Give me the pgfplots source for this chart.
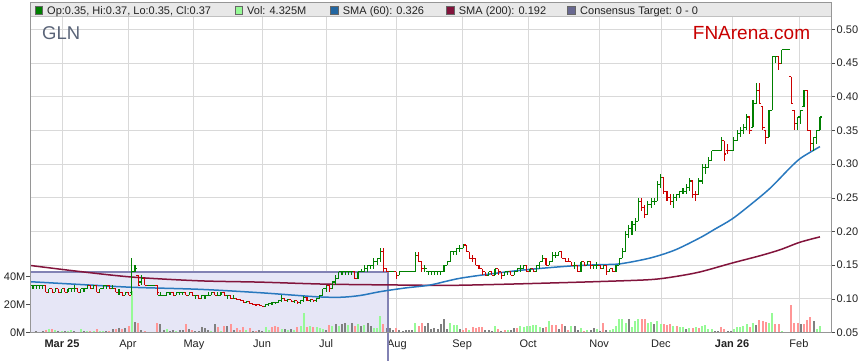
\documentclass[border=0pt]{standalone}
\usepackage{pgfplots}
\pgfplotsset{compat=1.18}
\usepackage{pgfplotstable}
\usepackage{fontspec}
\setmainfont{Liberation Sans}
\definecolor{pgreen}{RGB}{0,128,0}
\definecolor{pred}{RGB}{204,0,0}
\definecolor{vgreen}{RGB}{150,250,150}
\definecolor{vred}{RGB}{255,150,150}
\definecolor{vgray}{RGB}{128,128,128}
\definecolor{sma60}{RGB}{40,120,190}
\definecolor{sma200}{RGB}{130,20,60}
\definecolor{consfill}{RGB}{230,230,246}
\definecolor{consline}{RGB}{130,130,180}
\definecolor{gridc}{RGB}{217,217,217}
\definecolor{framec}{RGB}{150,150,150}
\definecolor{legbg}{RGB}{232,232,232}
\definecolor{glnc}{RGB}{90,100,120}
\definecolor{fnred}{RGB}{200,0,0}
\definecolor{txt}{RGB}{34,34,34}

\pgfdeclareplotmark{otick}{\pgfpathmoveto{\pgfqpoint{-2bp}{0bp}}\pgfpathlineto{\pgfqpoint{0bp}{0bp}}\pgfusepathqstroke}
\pgfdeclareplotmark{ctick}{\pgfpathmoveto{\pgfqpoint{0bp}{0bp}}\pgfpathlineto{\pgfqpoint{2bp}{0bp}}\pgfusepathqstroke}

\pgfplotstableread{
n o h l c p v q
0 .12 .12 .115 .12 1 0.6 0
1 .12 .12 .115 .12 1 0.8 0
2 .12 .12 .115 .12 1 0.5 0
3 .12 .12 .115 .12 1 1.0 0
4 .12 .12 .11 .11 0 2.0 2
5 .11 .115 .11 .115 1 2.2 1
6 .115 .115 .11 .11 0 2.4 2
7 .11 .115 .11 .115 1 1.5 1
8 .115 .115 .11 .11 0 0.8 0
9 .11 .115 .11 .115 1 1.2 1
10 .115 .115 .11 .11 0 1.0 0
11 .11 .115 .11 .115 1 0.9 1
12 .115 .115 .11 .115 1 1.8 1
13 .115 .12 .11 .115 1 1.0 0
14 .115 .115 .11 .11 0 0.7 0
15 .11 .115 .11 .115 1 2.4 1
16 .115 .115 .11 .115 1 1.0 0
17 .115 .12 .115 .12 1 0.8 1
18 .12 .12 .115 .115 0 1.4 2
19 .115 .12 .115 .12 1 1.0 1
20 .12 .12 .11 .11 0 2.8 2
21 .11 .115 .11 .115 1 1.0 1
22 .115 .12 .115 .12 1 1.3 1
23 .12 .12 .115 .12 1 1.0 0
24 .12 .12 .115 .115 0 1.2 2
25 .115 .12 .115 .115 1 2.6 0
26 .115 .115 .11 .11 0 2.2 2
27 .11 .115 .105 .11 1 3.4 0
28 .11 .11 .105 .105 0 2.4 2
29 .105 .11 .105 .11 1 3.0 0
30 .11 .11 .105 .105 0 4.3 2
31 .11 .16 .105 .14 1 30 1
32 .14 .15 .14 .145 1 7.6 0
33 .135 .135 .12 .12 0 7.0 2
34 .125 .135 .12 .13 1 2.0 0
35 .13 .13 .12 .12 0 1.2 2
36 .12 .12 .12 .12 1 0.6 0
37 .12 .12 .12 .12 1 0.5 0
38 .12 .12 .12 .12 1 0.7 0
39 .12 .12 .105 .11 0 7.0 2
40 .105 .11 .105 .105 1 6.0 0
41 .105 .105 .105 .105 1 1.5 0
42 .105 .11 .105 .11 1 2.2 1
43 .11 .11 .105 .11 1 1.0 0
44 .11 .11 .105 .105 0 1.8 0
45 .105 .11 .105 .11 1 1.0 1
46 .11 .11 .105 .11 1 2.0 0
47 .11 .11 .105 .11 1 1.5 0
48 .11 .11 .105 .105 0 6.0 2
49 .105 .11 .105 .11 1 2.4 0
50 .11 .11 .105 .105 0 2.0 2
51 .105 .105 .10 .105 1 1.0 0
52 .105 .105 .10 .10 0 1.2 0
53 .10 .105 .10 .105 1 3.6 0
54 .105 .105 .10 .105 1 3.0 0
55 .105 .11 .105 .105 1 1.5 0
56 .105 .11 .105 .11 1 1.0 1
57 .11 .11 .105 .105 0 6.0 0
58 .105 .11 .105 .105 1 3.6 2
59 .105 .11 .105 .11 1 1.2 1
60 .11 .11 .105 .105 0 4.8 2
61 .105 .105 .10 .105 1 4.8 0
62 .105 .105 .10 .10 0 6.0 2
63 .10 .105 .10 .10 1 2.0 0
64 .10 .10 .098 .099 0 3.0 2
65 .099 .10 .097 .098 0 1.5 2
66 .098 .099 .095 .095 0 4.0 2
67 .095 .097 .094 .096 1 2.0 1
68 .096 .096 .093 .093 0 3.0 2
69 .093 .094 .091 .092 0 1.0 0
70 .092 .093 .09 .091 0 1.2 2
71 .091 .092 .089 .09 0 1.5 0
72 .09 .09 .088 .089 0 1.0 0
73 .089 .092 .089 .091 1 3.6 1
74 .091 .094 .09 .093 1 2.0 1
75 .093 .095 .092 .094 1 3.6 2
76 .094 .096 .093 .095 1 4.8 2
77 .095 .098 .094 .097 1 3.6 2
78 .097 .106 .096 .10 1 2.4 1
79 .10 .10 .097 .098 0 2.4 0
80 .098 .10 .096 .099 1 2.0 1
81 .099 .099 .095 .096 0 2.4 0
82 .096 .098 .095 .097 1 2.0 1
83 .097 .097 .093 .094 0 3.6 2
84 .094 .098 .093 .097 1 4.8 1
85 .097 .104 .096 .102 1 13.8 1
86 .102 .102 .097 .098 0 4.0 2
87 .098 .10 .096 .099 1 5.0 1
88 .099 .099 .096 .097 0 4.0 2
89 .097 .101 .096 .10 1 3.6 1
90 .10 .106 .10 .105 1 3.0 1
91 .105 .115 .105 .115 1 2.4 1
92 .115 .12 .11 .12 1 2.0 0
93 .12 .12 .11 .115 0 5.5 2
94 .115 .125 .115 .125 1 4.8 1
95 .125 .135 .12 .13 1 6.0 0
96 .13 .14 .13 .14 1 5.0 1
97 .14 .14 .135 .14 1 6.0 0
98 .14 .14 .135 .14 1 7.0 0
99 .14 .14 .135 .14 1 5.5 1
100 .14 .14 .135 .14 1 6.5 0
101 .14 .14 .13 .13 0 5.0 2
102 .13 .14 .13 .14 1 6.0 1
103 .14 .145 .14 .14 1 4.8 0
104 .14 .15 .14 .145 1 5.5 1
105 .145 .15 .14 .15 1 7.0 0
106 .15 .15 .145 .15 1 4.5 0
107 .15 .16 .145 .155 1 3.5 1
108 .155 .16 .15 .16 1 3.0 1
109 .16 .175 .155 .17 1 12.0 1
110 .17 .175 .14 .145 0 6.0 2
111 .145 .145 .14 .14 0 3.0 0
112 .14 .14 .14 .14 1 3.0 0
113 .14 .14 .14 .14 1 2.0 0
114 .14 .14 .13 .135 0 3.0 2
115 .135 .14 .135 .14 1 1.5 0
116 .14 .14 .14 .14 1 1.2 0
117 .14 .14 .14 .14 1 1.8 0
118 .14 .14 .14 .14 1 1.5 0
119 .14 .14 .14 .14 1 2.0 0
120 .14 .17 .14 .165 1 7.0 1
121 .165 .17 .155 .155 0 4.8 2
122 .155 .155 .14 .145 0 6.5 2
123 .145 .15 .14 .145 1 4.8 0
124 .14 .14 .135 .14 1 7.0 0
125 .14 .14 .135 .14 1 2.4 0
126 .14 .14 .135 .14 1 3.0 0
127 .14 .14 .135 .14 1 2.4 0
128 .14 .14 .135 .14 1 6.0 0
129 .14 .15 .14 .15 1 9.5 0
130 .15 .155 .15 .155 1 2.5 0
131 .155 .17 .155 .17 1 7.0 1
132 .17 .17 .165 .17 1 5.5 1
133 .17 .175 .165 .175 1 5.5 1
134 .175 .18 .17 .175 1 2.5 0
135 .175 .18 .175 .18 1 2.0 2
136 .18 .18 .17 .17 0 3.0 2
137 .17 .17 .16 .16 0 2.0 1
138 .16 .165 .155 .16 0 4.0 2
139 .16 .16 .15 .15 0 3.0 2
140 .15 .15 .145 .145 0 4.0 2
141 .145 .145 .135 .14 0 4.0 2
142 .14 .14 .135 .135 0 1.5 0
143 .135 .14 .135 .14 1 1.5 0
144 .14 .14 .135 .135 0 1.0 0
145 .135 .145 .135 .145 1 4.8 1
146 .145 .145 .135 .14 0 2.4 2
147 .14 .14 .13 .135 0 1.0 0
148 .135 .14 .135 .14 1 1.5 2
149 .14 .14 .135 .14 1 1.5 1
150 .14 .14 .135 .135 0 2.0 0
151 .135 .14 .135 .14 1 3.5 0
152 .14 .145 .14 .145 1 3.0 2
153 .145 .15 .14 .145 1 5.0 1
154 .145 .15 .145 .15 1 4.0 1
155 .15 .15 .14 .14 0 5.0 1
156 .14 .145 .14 .145 1 4.5 1
157 .145 .145 .14 .14 0 5.5 1
158 .14 .15 .14 .15 1 5.5 1
159 .15 .155 .145 .155 1 4.0 1
160 .155 .165 .155 .16 1 3.0 0
161 .16 .16 .15 .15 0 4.0 2
162 .15 .155 .15 .155 1 8.0 1
163 .155 .17 .155 .165 1 5.5 2
164 .165 .17 .16 .165 1 5.5 2
165 .165 .17 .165 .17 1 2.4 0
166 .17 .17 .16 .16 0 6.0 2
167 .16 .16 .155 .155 0 5.0 0
168 .155 .16 .155 .155 0 1.5 2
169 .155 .155 .15 .15 0 4.5 1
170 .15 .155 .145 .15 1 4.5 0
171 .15 .15 .14 .14 0 2.0 0
172 .14 .155 .14 .155 1 3.0 1
173 .155 .155 .15 .15 0 1.2 2
174 .15 .155 .15 .155 1 2.0 1
175 .155 .155 .145 .15 0 1.5 0
176 .15 .15 .145 .15 1 3.0 0
177 .15 .155 .145 .15 1 2.4 1
178 .15 .15 .145 .145 0 1.2 0
179 .145 .15 .145 .15 1 7.0 2
180 .15 .15 .135 .14 0 1.5 0
181 .14 .145 .14 .145 1 2.0 1
182 .145 .145 .14 .14 0 2.4 1
183 .14 .15 .14 .15 1 4.8 1
184 .15 .16 .15 .16 1 10.0 1
185 .16 .175 .16 .17 1 10.0 1
186 .17 .20 .17 .195 1 7.0 1
187 .195 .21 .19 .205 1 10.0 0
188 .205 .215 .195 .21 1 4.0 1
189 .21 .22 .20 .215 1 8.0 1
190 .215 .25 .215 .245 1 10.0 1
191 .245 .25 .23 .235 0 10.0 2
192 .235 .24 .22 .225 0 9.5 2
193 .225 .245 .225 .24 1 7.0 1
194 .24 .25 .235 .245 1 7.5 1
195 .245 .25 .24 .245 1 6.0 0
196 .245 .275 .245 .27 1 8.0 1
197 .27 .285 .265 .28 1 6.0 1
198 .28 .28 .255 .26 0 6.0 2
199 .26 .26 .245 .25 0 5.5 2
200 .25 .255 .24 .245 0 6.0 2
201 .245 .255 .235 .25 1 5.0 1
202 .25 .255 .245 .255 1 5.0 2
203 .255 .26 .25 .26 1 4.0 1
204 .26 .265 .255 .26 1 4.0 1
205 .26 .27 .255 .265 1 2.4 0
206 .265 .28 .26 .275 1 3.0 1
207 .275 .275 .25 .255 0 3.0 2
208 .255 .26 .245 .255 0 4.0 1
209 .255 .28 .255 .275 1 3.0 2
210 .275 .30 .27 .295 1 5.0 1
211 .295 .30 .285 .295 1 5.5 1
212 .295 .31 .295 .305 1 2.4 1
213 .305 .32 .305 .32 1 2.4 1
214 .32 .32 .32 .32 1 1.0 0
215 .32 .32 .32 .32 1 1.0 0
216 .32 .34 .32 .335 1 3.6 2
217 .335 .335 .305 .315 0 2.4 2
218 .32 .33 .315 .32 0 1.0 0
219 .32 .32 .32 .32 1 1.0 0
220 .32 .34 .32 .335 1 2.4 1
221 .335 .35 .335 .345 1 3.6 1
222 .345 .355 .34 .35 1 4.0 1
223 .35 .36 .345 .355 1 5.0 1
224 .355 .375 .35 .37 1 6.0 1
225 .37 .37 .345 .35 0 4.0 2
226 .355 .395 .355 .39 1 6.5 1
227 .39 .42 .39 .41 1 5.5 0
228 .41 .42 .39 .39 0 9.0 2
229 .385 .385 .35 .355 0 8.0 2
230 .35 .35 .33 .34 0 7.5 2
231 .34 .38 .34 .38 1 7.0 1
232 .38 .46 .38 .46 1 13.6 1
233 .46 .46 .45 .46 1 6.0 2
234 .46 .46 .44 .45 0 6.0 2
235 .45 .47 .45 .47 1 1.0 1
236 .47 .47 .47 .47 1 0 0
237 .47 .47 .47 .47 1 0 0
238 .43 .43 .39 .39 0 19.5 2
239 .38 .38 .35 .36 0 7.0 2
240 .36 .37 .35 .37 1 6.5 2
241 .37 .38 .36 .38 1 6.0 0
242 .385 .41 .385 .41 1 6.0 2
243 .41 .41 .35 .35 0 9.0 2
244 .35 .35 .32 .33 0 11.0 2
245 .33 .34 .32 .34 1 8.0 0
246 .34 .35 .33 .35 1 2.4 1
247 .35 .37 .35 .37 1 4.325 1
}\ohlc

\pgfplotsset{
  base/.style={scale only axis, width=800.5bp, height=315.5bp,
    xmin=-0.785, xmax=250.47, at={(30.5bp,30.5bp)}, anchor=south west,
    tick label style={font=\fontsize{11bp}{13bp}\selectfont, text=txt},
    /pgf/number format/assume math mode=true},
  ohlcG/.style={only marks, pgreen, mark options={line width=1.1bp, solid, pgreen},
    restrict expr to domain={\thisrow{p}}{1:1}},
  ohlcR/.style={only marks, pred, mark options={line width=1.1bp, solid, pred},
    restrict expr to domain={\thisrow{p}}{0:0}},
}

\begin{document}
\begin{tikzpicture}
\path[use as bounding box] (0,0) rectangle (859bp,363bp);
\fill[legbg] (30.5bp,346.3bp) rectangle (831bp,360bp);

% background axis: grid, consensus band, right price axis
\begin{axis}[base, ymin=0.05, ymax=0.5185,
  axis x line*=bottom, axis y line*=right,
  axis line style={framec, line width=0.8bp},
  xtick={9.1,29.8,50.5,71.9,92,114.2,134.7,155.4,177.7,197.1,219.4,240.4},
  xticklabels={\textbf{Mar 25},Apr,May,Jun,Jul,Aug,Sep,Oct,Nov,Dec,\textbf{Jan 26},Feb},
  x tick style={draw=none},
  ytick={0.05,0.10,0.15,0.20,0.25,0.30,0.35,0.40,0.45,0.50},
  yticklabels={0.05,0.10,0.15,0.20,0.25,0.30,0.35,0.40,0.45,0.50},
  yticklabel style={inner xsep=1.5bp},
  y tick style={black!70, line width=0.6bp},
  tick align=outside, major tick length=4bp,
  grid=major, grid style={gridc, line width=0.8bp}]
\addplot[fill=consfill, draw=none] coordinates {(-0.785,0.05) (111.4,0.05) (111.4,0.14) (-0.785,0.14)} --cycle;
\end{axis}

% volume axis
\begin{axis}[base, ymin=0, ymax=225.4,
  axis y line*=left, axis x line=none,
  axis line style={framec, line width=0.8bp},
  ytick={0,20,40}, yticklabels={0M,20M,40M},
  yticklabel style={inner xsep=1bp},
  y tick style={black!70, line width=0.6bp},
  tick align=outside, major tick length=4bp]
\addplot[ycomb, vgray, line width=2bp, mark=none, restrict expr to domain={\thisrow{q}}{0:0}] table[x=n, y=v] {\ohlc};
\addplot[ycomb, vgreen, line width=2bp, mark=none, restrict expr to domain={\thisrow{q}}{1:1}] table[x=n, y=v] {\ohlc};
\addplot[ycomb, vred, line width=2bp, mark=none, restrict expr to domain={\thisrow{q}}{2:2}] table[x=n, y=v] {\ohlc};
\end{axis}

% price overlay
\begin{axis}[base, ymin=0.05, ymax=0.5185, hide axis, clip=false]
\addplot[consline, line width=2bp] coordinates {(-0.785,0.14) (111.4,0.14) (111.4,0.0075)};
\addplot[sma200, line width=1.5bp, smooth] coordinates {
(-0.785,0.1495) (14.75,0.1405) (31.4,0.1322) (52.4,0.1267) (71.2,0.1248) (92,0.1218)
(115.2,0.1205) (130.9,0.1200) (146.6,0.1215) (162.3,0.1235) (178,0.1257) (193.7,0.1285)
(201.5,0.1330) (209.4,0.1400) (219.4,0.1531) (228.2,0.1640) (234.5,0.1729) (240.7,0.1840) (247,0.192)};
\addplot[sma60, line width=1.5bp, smooth] coordinates {
(-0.785,0.1254) (14.75,0.1213) (31.4,0.1171) (52.4,0.1141) (71.2,0.1091) (88.5,0.1032)
(96.4,0.1023) (102.6,0.1049) (108.9,0.1106) (116.8,0.1161) (124.6,0.1205) (134,0.1305)
(146.6,0.1388) (156,0.1438) (168.6,0.1487) (178,0.1507) (184.3,0.1520) (193.7,0.1606)
(201.5,0.1725) (209.4,0.1908) (214.1,0.2037) (219.4,0.2185) (225,0.2390) (231.3,0.2640)
(237.6,0.2945) (240.7,0.3080) (243.9,0.3176) (247,0.326)};
\addplot[ohlcG, mark=otick, error bars/.cd, y dir=both, y explicit, error mark=none,
  error bar style={line width=1.1bp, pgreen}]
  table[x=n, y=o, y error plus expr=\thisrow{h}-\thisrow{o}, y error minus expr=\thisrow{o}-\thisrow{l}] {\ohlc};
\addplot[ohlcG, mark=ctick] table[x=n, y=c] {\ohlc};
\addplot[ohlcR, mark=otick, error bars/.cd, y dir=both, y explicit, error mark=none,
  error bar style={line width=1.1bp, pred}]
  table[x=n, y=o, y error plus expr=\thisrow{h}-\thisrow{o}, y error minus expr=\thisrow{o}-\thisrow{l}] {\ohlc};
\addplot[ohlcR, mark=ctick] table[x=n, y=c] {\ohlc};
\end{axis}

% frame
\draw[framec, line width=1bp] (30.5bp,30.5bp) rectangle (831bp,360bp);
\draw[framec!60, line width=0.6bp] (30.5bp,346.3bp) -- (831bp,346.3bp);

% titles
\node[anchor=base west, inner sep=0, font=\fontsize{18.5bp}{20bp}\selectfont, text=glnc] at (42bp,323.7bp) {GLN};
\node[anchor=base west, inner sep=0, font=\fontsize{19bp}{21bp}\selectfont, text=fnred] at (692.7bp,323.7bp) {FNArena.com};

% legend
\begin{scope}[font=\fontsize{11bp}{13bp}\selectfont]
\filldraw[fill=pgreen, draw=black!60, line width=0.6bp] (35bp,348.7bp) rectangle (42.5bp,356.2bp);
\node[anchor=base west, inner sep=0, text=txt] at (47bp,348.7bp) {Op:0.35, Hi:0.37, Lo:0.35, Cl:0.37};
\filldraw[fill=vgreen, draw=black!60, line width=0.6bp] (235bp,348.7bp) rectangle (242.5bp,356.2bp);
\node[anchor=base west, inner sep=0, text=txt] at (247bp,348.7bp) {Vol: 4.325M};
\filldraw[fill=sma60!85!black, draw=black!60, line width=0.6bp] (330.7bp,348.7bp) rectangle (338.2bp,356.2bp);
\node[anchor=base west, inner sep=0, text=txt] at (342.7bp,348.7bp) {SMA (60): 0.326};
\filldraw[fill=sma200, draw=black!60, line width=0.6bp] (446.5bp,348.7bp) rectangle (454bp,356.2bp);
\node[anchor=base west, inner sep=0, text=txt] at (458.7bp,348.7bp) {SMA (200): 0.192};
\filldraw[fill=consline!80!black, draw=black!60, line width=0.6bp] (567.7bp,348.7bp) rectangle (575.2bp,356.2bp);
\node[anchor=base west, inner sep=0, text=txt] at (580bp,348.7bp) {Consensus Target: 0 - 0};
\end{scope}
\end{tikzpicture}
\end{document}
